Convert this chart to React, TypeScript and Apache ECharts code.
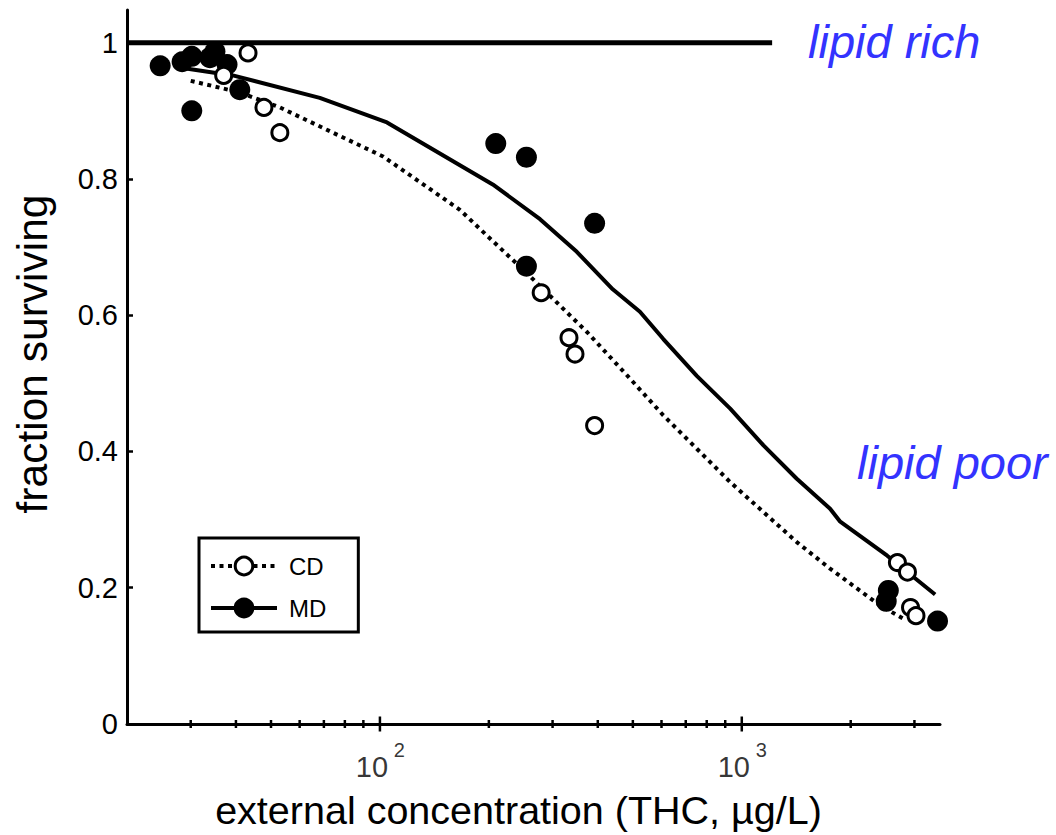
import React, { useEffect, useRef } from "react";
import * as echarts from "echarts";

// ---- data ----
const mdCurve: [number, number][] = [
  [28.5, 0.963], [39.2, 0.952], [68.2, 0.919], [104.6, 0.883], [205, 0.792],
  [277, 0.741], [350, 0.693], [440, 0.638], [523, 0.605], [607, 0.565],
  [751, 0.511], [929, 0.463], [1148, 0.409], [1419, 0.36], [1754, 0.316],
  [1871, 0.297], [2523, 0.247], [3422, 0.19],
];
const cdCurve: [number, number][] = [
  [30.0, 0.944], [41.0, 0.927], [52.9, 0.905], [102, 0.833], [166, 0.755],
  [260, 0.657], [374, 0.575], [491, 0.507], [607, 0.453], [751, 0.404],
  [929, 0.355], [1148, 0.311], [1419, 0.267], [1754, 0.228], [2411, 0.174],
  [2847, 0.152],
];
const mdPoints: [number, number][] = [
  [24.7, 0.966], [28.4, 0.972], [30.2, 0.98], [33.9, 0.978], [35.0, 0.987],
  [37.8, 0.968], [41.0, 0.931], [30.2, 0.9], [209, 0.852], [254, 0.832],
  [392, 0.735], [254, 0.672], [2541, 0.196], [2507, 0.18], [3475, 0.151],
];
const cdPoints: [number, number][] = [
  [37.0, 0.952], [43.2, 0.985], [47.8, 0.905], [52.9, 0.868], [279, 0.633],
  [333, 0.567], [346, 0.543], [392, 0.438], [2692, 0.237], [2870, 0.223],
  [2926, 0.171], [3030, 0.159],
];
const refLine: [number, number][] = [[20, 1], [1213, 1]];
const minorTicks = [30, 40, 50, 60, 70, 80, 90, 200, 300, 400, 500, 600, 700, 800, 900, 2000, 3000];
const majorTicks = [100, 1000];
const majorBase = "10";
const majorExponents = ["2", "3"];
const yTicks = [0, 0.2, 0.4, 0.6, 0.8, 1];
const xMin = 20;
const xMax = 3530;
const yMax = 1.048;

const FONT = '"Liberation Sans", Arial, Helvetica, sans-serif';

export default function App() {
  const ref = useRef<HTMLDivElement>(null);
  useEffect(() => {
    if (!ref.current) return;
    const chart = echarts.init(ref.current, undefined, { renderer: "svg" });
    const labelSeries = (name: string, fontSize: number, distance: number, dx: number, texts: string[]) => ({
      name,
      type: "scatter",
      data: majorTicks.map((v) => [v, 0]),
      symbol: "circle",
      symbolSize: 1,
      itemStyle: { color: "rgba(0,0,0,0)" },
      silent: true,
      clip: false,
      z: 5,
      label: {
        show: true,
        position: "bottom",
        distance,
        offset: [dx, 0],
        color: "#000",
        fontFamily: FONT,
        fontSize,
        formatter: (p: any) => texts[p.dataIndex],
      },
    });
    chart.setOption({
      animation: false,
      backgroundColor: "#fff",
      textStyle: { fontFamily: FONT, color: "#000" },
      grid: { left: 127, right: 116, top: 10, bottom: 109, containLabel: false },
      legend: {
        data: ["CD", "MD"],
        orient: "vertical",
        left: 199,
        top: 538,
        itemWidth: 66,
        itemHeight: 22,
        itemGap: 18,
        padding: [16, 32, 12, 10],
        borderColor: "#000",
        borderWidth: 3,
        borderRadius: 0,
        backgroundColor: "#fff",
        selectedMode: false,
        lineStyle: { width: 4 },
        itemStyle: { borderWidth: 3 },
        textStyle: { fontSize: 24, color: "#000", fontFamily: FONT, padding: [0, 0, 0, 7] },
      },
      xAxis: {
        type: "log",
        logBase: 10,
        min: xMin,
        max: xMax,
        name: "external concentration (THC, µg/L)",
        nameLocation: "middle",
        nameGap: 66,
        nameTextStyle: { fontSize: 39.5, color: "#000", fontFamily: FONT, padding: [0, 30, 0, 0] },
        axisLine: { show: true, lineStyle: { color: "#000", width: 3 } },
        axisTick: { show: false },
        splitLine: { show: false },
        axisLabel: { show: false },
      },
      yAxis: {
        type: "value",
        min: 0,
        max: yMax,
        name: "fraction surviving",
        nameLocation: "middle",
        nameGap: 73,
        nameTextStyle: { fontSize: 42.5, color: "#000", fontFamily: FONT, padding: [0, 0, 0, 26] },
        axisLine: { show: true, lineStyle: { color: "#000", width: 3 } },
        axisTick: { show: true, inside: true, length: 6, lineStyle: { color: "#000", width: 2.5 }, customValues: yTicks },
        splitLine: { show: false },
        axisLabel: {
          margin: 9,
          fontSize: 29,
          color: "#000",
          customValues: yTicks,
          formatter: (v: number) => String(+v.toFixed(1)),
        },
      },
      graphic: [
        {
          type: "text",
          left: 808,
          top: 18,
          style: { text: "lipid rich", fill: "#3333ff", font: `italic 47px ${FONT}` },
        },
        {
          type: "text",
          left: 857,
          top: 439,
          style: { text: "lipid poor", fill: "#3333ff", font: `italic 47px ${FONT}` },
        },
      ],
      series: [
        {
          name: "ref",
          type: "line",
          data: refLine,
          symbol: "none",
          silent: true,
          lineStyle: { color: "#000", width: 5 },
          z: 2,
        },
        {
          name: "CD",
          type: "line",
          data: cdCurve,
          symbol: "circle",
          showSymbol: false,
          silent: true,
          lineStyle: { color: "#000", width: 4, type: [4, 4.5], cap: "butt" },
          itemStyle: { color: "#fff", borderColor: "#000", borderWidth: 3 },
          z: 2,
        },
        {
          name: "MD",
          type: "line",
          data: mdCurve,
          symbol: "circle",
          showSymbol: false,
          silent: true,
          lineStyle: { color: "#000", width: 4 },
          itemStyle: { color: "#000", borderColor: "#000", borderWidth: 1 },
          z: 2,
        },
        {
          name: "MD data",
          type: "scatter",
          data: mdPoints,
          symbol: "circle",
          symbolSize: 21,
          itemStyle: { color: "#000", opacity: 1 },
          silent: true,
          z: 3,
        },
        {
          name: "CD data",
          type: "scatter",
          data: cdPoints,
          symbol: "circle",
          symbolSize: 16,
          itemStyle: { color: "#fff", borderColor: "#000", borderWidth: 3, opacity: 1 },
          silent: true,
          z: 4,
        },
        {
          name: "minor ticks",
          type: "scatter",
          data: minorTicks.map((v) => [v, 0]),
          symbol: "rect",
          symbolSize: [2.5, 8],
          itemStyle: { color: "#000", opacity: 1 },
          silent: true,
          z: 5,
        },
        {
          name: "major ticks",
          type: "scatter",
          data: majorTicks.map((v) => [v, 0]),
          symbol: "rect",
          symbolSize: [2.5, 15],
          itemStyle: { color: "#000", opacity: 1 },
          silent: true,
          clip: false,
          z: 5,
        },
        labelSeries("major base", 29, 28, -8, majorTicks.map(() => majorBase)),
        labelSeries("major exponents", 20, 15, 19.5, majorExponents),
      ],
    });
    return () => chart.dispose();
  }, []);
  return (
    <div
      ref={ref}
      style={{ position: "fixed", left: 0, top: 0, width: 1056, height: 835, background: "#fff" }}
    />
  );
}
